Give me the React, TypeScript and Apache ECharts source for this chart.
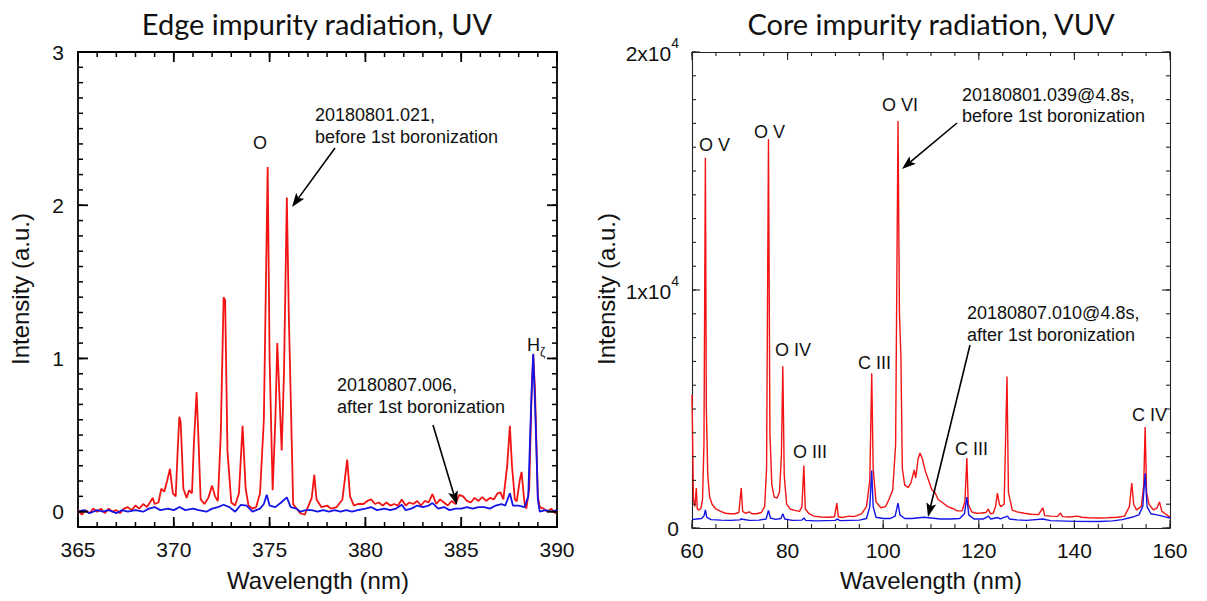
import React, { useEffect, useRef } from 'react';
import * as echarts from 'echarts';

// ---------- Data: Edge impurity radiation, UV (wavelength nm, intensity a.u.) ----------
const edgeBefore: [number, number][] = [
  [365.0, 0.01], [365.2, -0.02], [365.4, 0.01], [365.6, -0.01], [365.8, 0.02], [366.0, 0.0],
  [366.2, 0.02], [366.4, -0.01], [366.6, 0.02], [366.8, 0.0], [367.0, 0.01], [367.2, -0.01],
  [367.4, 0.02], [367.6, 0.03], [367.8, 0.01], [368.0, 0.04], [368.2, 0.02], [368.4, 0.05],
  [368.6, 0.03], [368.8, 0.07], [368.9, 0.09], [369.0, 0.05], [369.2, 0.06], [369.35, 0.15],
  [369.5, 0.13], [369.65, 0.2], [369.8, 0.28], [369.95, 0.12], [370.1, 0.1], [370.22, 0.45],
  [370.29, 0.62], [370.36, 0.58], [370.5, 0.15], [370.67, 0.09], [370.8, 0.14], [370.95, 0.12],
  [371.05, 0.45], [371.19, 0.78], [371.28, 0.5], [371.4, 0.08], [371.6, 0.05], [371.8, 0.09],
  [372.0, 0.17], [372.15, 0.1], [372.3, 0.07], [372.45, 0.5], [372.6, 1.4], [372.68, 1.38],
  [372.8, 0.4], [373.0, 0.06], [373.2, 0.04], [373.4, 0.12], [373.59, 0.56], [373.75, 0.15],
  [373.9, 0.04], [374.1, 0.02], [374.3, 0.03], [374.5, 0.12], [374.7, 0.6], [374.9, 2.25],
  [375.0, 1.0], [375.16, 0.14], [375.3, 0.6], [375.4, 1.1], [375.5, 0.8], [375.63, 0.4],
  [375.75, 0.9], [375.9, 2.05], [376.0, 1.3], [376.23, 0.05], [376.4, 0.02], [376.6, -0.01],
  [376.84, -0.02], [377.0, 0.03], [377.2, 0.09], [377.33, 0.24], [377.45, 0.08], [377.7, 0.03],
  [378.0, 0.04], [378.2, 0.02], [378.5, 0.03], [378.8, 0.08], [379.05, 0.34], [379.2, 0.1],
  [379.4, 0.04], [379.6, 0.05], [379.9, 0.05], [380.1, 0.07], [380.3, 0.08], [380.5, 0.05],
  [380.7, 0.06], [380.9, 0.04], [381.1, 0.06], [381.3, 0.04], [381.5, 0.05], [381.7, 0.04],
  [381.9, 0.08], [382.1, 0.04], [382.3, 0.06], [382.5, 0.05], [382.7, 0.07], [382.9, 0.04],
  [383.1, 0.07], [383.3, 0.06], [383.5, 0.115], [383.7, 0.05], [383.9, 0.08], [384.1, 0.06],
  [384.3, 0.04], [384.5, 0.07], [384.7, 0.05], [384.9, 0.11], [385.1, 0.1], [385.3, 0.07],
  [385.5, 0.06], [385.7, 0.09], [385.9, 0.07], [386.1, 0.095], [386.3, 0.07], [386.5, 0.09],
  [386.7, 0.08], [386.9, 0.12], [387.05, 0.126], [387.2, 0.08], [387.4, 0.3], [387.54, 0.56],
  [387.65, 0.3], [387.8, 0.08], [387.9, 0.067], [388.05, 0.2], [388.15, 0.26], [388.3, 0.06],
  [388.4, 0.02], [388.55, 0.15], [388.68, 0.8], [388.76, 1.02], [388.85, 0.8], [389.0, 0.1],
  [389.1, 0.03], [389.3, 0.02], [389.5, 0.0], [389.7, 0.02], [389.9, -0.01], [390.0, 0.01],
];

const edgeAfter: [number, number][] = [
  [365.0, 0.0], [365.3, 0.01], [365.6, -0.01], [366.0, 0.01], [366.3, 0.0], [366.6, 0.01],
  [367.0, -0.01], [367.3, 0.01], [367.6, 0.0], [368.0, 0.01], [368.4, 0.0], [368.7, 0.02],
  [369.0, 0.03], [369.3, 0.01], [369.7, 0.02], [370.0, 0.01], [370.3, 0.03], [370.6, 0.01],
  [371.0, 0.02], [371.3, 0.01], [371.7, 0.0], [372.0, 0.02], [372.3, 0.03], [372.6, 0.045],
  [372.9, 0.03], [373.2, 0.0], [373.5, 0.045], [373.8, 0.04], [374.1, 0.0], [374.5, 0.02],
  [374.7, 0.05], [374.85, 0.11], [375.0, 0.04], [375.3, 0.03], [375.6, 0.06], [375.9, 0.093],
  [376.1, 0.03], [376.4, 0.02], [376.6, 0.0], [376.9, 0.01], [377.2, 0.01], [377.5, 0.0],
  [377.8, 0.01], [378.1, 0.0], [378.4, 0.01], [378.7, 0.0], [379.0, 0.01], [379.3, 0.0],
  [379.6, 0.01], [380.0, 0.02], [380.3, 0.03], [380.6, 0.01], [381.0, 0.02], [381.3, 0.01],
  [381.6, 0.02], [381.9, 0.045], [382.1, 0.01], [382.4, 0.02], [382.7, 0.04], [383.0, 0.03],
  [383.3, 0.04], [383.5, 0.056], [383.8, 0.02], [384.1, 0.03], [384.4, 0.01], [384.7, 0.02],
  [385.0, 0.02], [385.3, 0.03], [385.6, 0.02], [385.9, 0.03], [386.2, 0.03], [386.5, 0.02],
  [386.8, 0.04], [387.1, 0.05], [387.3, 0.04], [387.54, 0.12], [387.7, 0.04], [388.0, 0.04],
  [388.3, 0.03], [388.5, 0.1], [388.65, 0.7], [388.76, 1.03], [388.88, 0.6], [389.0, 0.08],
  [389.1, 0.0], [389.4, 0.01], [389.7, 0.0], [390.0, 0.01],
];

// ---------- Data: Core impurity radiation, VUV (wavelength nm, intensity) ----------
const coreBefore: [number, number][] = [
  [60.0, 5590], [60.3, 1200], [60.6, 900], [60.9, 1680], [61.1, 800], [61.5, 750], [61.9, 850],
  [62.2, 1200], [62.5, 3500], [62.8, 15560], [63.0, 5000], [63.3, 2200], [63.7, 1300], [64.2, 1000],
  [65.0, 800], [66.0, 700], [67.0, 620], [68.0, 600], [69.0, 600], [69.8, 650], [70.3, 1680],
  [70.6, 700], [71.2, 620], [72.0, 680], [72.5, 600], [73.5, 600], [74.5, 650], [75.2, 900],
  [75.6, 2500], [76.0, 16340], [76.3, 4000], [76.7, 1800], [77.2, 1300], [77.8, 1260], [78.3, 1500],
  [78.7, 3000], [79.0, 6800], [79.3, 2200], [79.8, 1000], [80.5, 800], [81.5, 740], [82.5, 700],
  [83.0, 900], [83.4, 2620], [83.7, 800], [84.5, 600], [85.5, 500], [87.0, 460], [88.5, 450],
  [89.8, 470], [90.3, 1050], [90.6, 470], [91.5, 440], [92.3, 480], [93.0, 500], [93.7, 480],
  [94.5, 520], [95.5, 600], [96.5, 900], [97.2, 2000], [97.6, 6500], [97.9, 2500], [98.5, 1100],
  [99.5, 850], [100.5, 900], [101.2, 1200], [102.0, 1600], [102.6, 3500], [103.1, 17100],
  [103.4, 9000], [103.7, 7270], [104.0, 2500], [104.5, 1800], [105.2, 1700], [105.8, 1900],
  [106.5, 2440], [106.8, 2100], [107.3, 2900], [107.7, 3150], [108.2, 2900], [108.8, 2400],
  [109.5, 2000], [110.2, 1600], [110.8, 1500], [111.5, 1200], [112.5, 1050], [113.5, 900],
  [114.5, 820], [115.5, 720], [116.5, 720], [117.1, 1100], [117.5, 2940], [117.8, 1000],
  [118.5, 680], [119.5, 620], [120.5, 630], [121.5, 650], [122.0, 800], [122.4, 600], [123.0, 620],
  [123.5, 900], [123.9, 1470], [124.3, 1000], [124.6, 900], [125.3, 1000], [125.9, 6360],
  [126.2, 1500], [127.0, 750], [128.0, 680], [129.5, 620], [131.0, 580], [132.5, 560], [133.4, 850],
  [133.8, 520], [135.0, 500], [136.5, 490], [137.1, 630], [137.5, 480], [139.0, 460], [140.7, 500],
  [141.5, 450], [143.0, 430], [145.0, 420], [147.0, 430], [149.0, 450], [150.5, 500], [151.5, 900],
  [152.0, 1890], [152.4, 1000], [153.0, 760], [154.0, 900], [154.5, 1800], [154.8, 4240],
  [155.1, 1500], [155.6, 1000], [156.5, 760], [157.3, 850], [157.8, 1100], [158.3, 700],
  [159.0, 600], [160.0, 460],
];

const coreAfter: [number, number][] = [
  [60.0, 350], [61.0, 380], [62.0, 400], [62.5, 500], [62.8, 760], [63.1, 450], [64.0, 350],
  [66.0, 330], [68.0, 320], [70.0, 340], [70.3, 380], [72.0, 320], [74.0, 330], [75.5, 380],
  [76.0, 740], [76.4, 420], [77.5, 360], [78.6, 400], [79.0, 600], [79.4, 380], [81.0, 320],
  [83.0, 330], [83.4, 420], [83.8, 320], [86.0, 300], [88.0, 310], [90.0, 320], [90.3, 380],
  [91.0, 310], [93.0, 320], [95.0, 330], [96.5, 400], [97.2, 900], [97.6, 2410], [97.9, 900],
  [98.5, 450], [100.0, 400], [101.5, 400], [102.5, 500], [103.1, 1050], [103.5, 550], [104.5, 400],
  [106.0, 400], [107.5, 430], [108.5, 450], [110.0, 420], [112.0, 380], [114.0, 380], [116.0, 400],
  [117.0, 600], [117.5, 1300], [117.9, 550], [119.0, 380], [121.0, 380], [122.0, 500], [122.5, 380],
  [124.0, 440], [124.5, 380], [126.0, 500], [126.4, 380], [128.0, 340], [130.0, 320], [133.4, 380],
  [135.0, 310], [140.0, 280], [145.0, 270], [148.0, 300], [150.0, 350], [152.0, 450], [153.5, 550],
  [154.3, 900], [154.8, 2300], [155.2, 900], [156.0, 600], [157.0, 560], [158.0, 520], [159.0, 470],
  [160.0, 420],
];

// ---------- Axis ranges and tick values ----------
const edgeX = { min: 365, max: 390, interval: 5 };
const edgeY = { min: -0.1, max: 3, interval: 0.1 };
const coreX = { min: 60, max: 160, interval: 20 };
const coreY = { min: 0, max: 20000, interval: 10000 };

function steps(a: number, b: number, step: number): number[] {
  const out: number[] = [];
  const n = Math.round((b - a) / step);
  for (let i = 0; i <= n; i++) out.push(Math.round((a + i * step) * 1e6) / 1e6);
  return out;
}
const edgeXMajor = steps(365, 390, 5);
const edgeXMinor = steps(365, 390, 1);
const edgeYMajor = [0, 1, 2, 3];
const edgeYMinor = steps(-0.1, 3, 0.1);
const coreXMajor = steps(60, 160, 20);
const coreXMinor = steps(60, 160, 5);
const coreYMajor = [0, 10000, 20000];
const coreYMinor = steps(0, 20000, 1000);

const titles = ['Edge impurity radiation, UV', 'Core impurity radiation, VUV'];
const xName = 'Wavelength (nm)';
const yName = 'Intensity (a.u.)';

const ARIAL = 'Liberation Sans, Arial, sans-serif';
const TITLEFONT = 'Lato, sans-serif';
const RED = '#f21414';
const BLUE = '#1414e6';
const INK = '#111';

function txt(text: string, x: number, y: number, size = 18, align = 'left', extra: any = {}) {
  return {
    type: 'text', x, y, z: 50, ...extra,
    style: { text, fontSize: size, fontFamily: ARIAL, fill: INK, textAlign: align, textVerticalAlign: 'middle' },
  };
}

function arrow(x1: number, y1: number, x2: number, y2: number, w = 1.6) {
  const dx = x2 - x1, dy = y2 - y1;
  const L = Math.hypot(dx, dy);
  const ux = dx / L, uy = dy / L;
  const hl = 14, hw = 5;
  const bx = x2 - ux * hl, by = y2 - uy * hl;
  return [
    { type: 'line', z: 50, shape: { x1, y1, x2: bx + ux * 3, y2: by + uy * 3 }, style: { stroke: '#000', lineWidth: w } },
    {
      type: 'polygon', z: 50,
      shape: { points: [[x2, y2], [bx - uy * hw, by + ux * hw], [bx + ux * 3, by + uy * 3], [bx + uy * hw, by - ux * hw]] },
      style: { fill: '#000' },
    },
  ];
}

// inward ticks drawn by a custom series through the axes' scales
function tickSeries(xi: number, yi: number, vals: number[], dim: 'x' | 'y', len: number, color: string, width: number, xMin: number, yMin: number) {
  return {
    type: 'custom', xAxisIndex: xi, yAxisIndex: yi, clip: false, z: 10,
    data: vals.map((v) => (dim === 'x' ? [v, yMin] : [xMin, v])),
    encode: { x: 0, y: 1 },
    renderItem: (params: any, api: any) => {
      const cs = params.coordSys;
      const p = api.coord([api.value(0), api.value(1)]);
      const style = { stroke: color, lineWidth: width };
      if (dim === 'x') {
        const b = cs.y + cs.height;
        return {
          type: 'group',
          children: [
            { type: 'line', shape: { x1: p[0], y1: b, x2: p[0], y2: b - len }, style },
            { type: 'line', shape: { x1: p[0], y1: cs.y, x2: p[0], y2: cs.y + len }, style },
          ],
        };
      }
      const r = cs.x + cs.width;
      return {
        type: 'group',
        children: [
          { type: 'line', shape: { x1: cs.x, y1: p[1], x2: cs.x + len, y2: p[1] }, style },
          { type: 'line', shape: { x1: r, y1: p[1], x2: r - len, y2: p[1] }, style },
        ],
      };
    },
  };
}

export default function App() {
  const ref = useRef<HTMLDivElement>(null);
  useEffect(() => {
    const chart = echarts.init(ref.current!, null, { renderer: 'svg' });
    const tickLabel = { fontFamily: ARIAL, fontSize: 21, color: INK };
    const L0 = 1.8, C0 = '#000';
    const L1 = 1.1, C1 = '#222';

    const ax = (gridIndex: number, pos: string, range: any, lw: number, col: string, label: any) => ({
      type: 'value', gridIndex, position: pos, min: range.min, max: range.max, interval: range.interval,
      axisLine: { show: true, onZero: false, lineStyle: { color: col, width: lw } },
      axisTick: { show: false },
      minorTick: { show: false },
      splitLine: { show: false },
      axisLabel: label || { show: false },
    });

    const option: any = {
      animation: false,
      grid: [
        { left: 78, top: 52, width: 479, height: 475 },
        { left: 692, top: 52, width: 478, height: 476 },
      ],
      xAxis: [
        ax(0, 'bottom', edgeX, L0, C0, { ...tickLabel, margin: 12 }),
        ax(0, 'top', edgeX, L0, C0, null),
        ax(1, 'bottom', coreX, L1, C1, { ...tickLabel, margin: 12 }),
        ax(1, 'top', coreX, L1, C1, null),
      ],
      yAxis: [
        ax(0, 'left', edgeY, L0, C0, {
          ...tickLabel, margin: 14,
          formatter: (v: number) => {
            const r = Math.round(v);
            return Math.abs(v - r) < 1e-6 && edgeYMajor.includes(r) ? String(r) : '';
          },
        }),
        ax(0, 'right', edgeY, L0, C0, null),
        ax(1, 'left', coreY, L1, C1, {
          ...tickLabel, margin: 13,
          formatter: (v: number) => (v === 0 ? '0' : `{b|${v / 10000}x10}{s|4}`),
          rich: {
            b: { fontFamily: ARIAL, fontSize: 21, color: INK, verticalAlign: 'bottom', lineHeight: 24 },
            s: { fontFamily: ARIAL, fontSize: 14, color: INK, verticalAlign: 'bottom', lineHeight: 24, padding: [0, 0, 14, 0] },
          },
        }),
        ax(1, 'right', coreY, L1, C1, null),
      ],
      series: [
        { type: 'line', xAxisIndex: 0, yAxisIndex: 0, data: edgeBefore, showSymbol: false, symbol: 'none', lineStyle: { color: RED, width: 1.8 }, z: 3 },
        { type: 'line', xAxisIndex: 0, yAxisIndex: 0, data: edgeAfter, showSymbol: false, symbol: 'none', lineStyle: { color: BLUE, width: 1.8 }, z: 4 },
        { type: 'line', xAxisIndex: 2, yAxisIndex: 2, data: coreBefore, showSymbol: false, symbol: 'none', lineStyle: { color: RED, width: 1.4 }, z: 3 },
        { type: 'line', xAxisIndex: 2, yAxisIndex: 2, data: coreAfter, showSymbol: false, symbol: 'none', lineStyle: { color: BLUE, width: 1.4 }, z: 4 },
        tickSeries(0, 0, edgeXMinor, 'x', 5, C0, 1.5, edgeX.min, edgeY.min),
        tickSeries(0, 0, edgeXMajor, 'x', 10, C0, 1.8, edgeX.min, edgeY.min),
        tickSeries(0, 0, edgeYMinor, 'y', 5, C0, 1.5, edgeX.min, edgeY.min),
        tickSeries(0, 0, edgeYMajor, 'y', 10, C0, 1.8, edgeX.min, edgeY.min),
        tickSeries(2, 2, coreXMinor, 'x', 4, C1, 1.1, coreX.min, coreY.min),
        tickSeries(2, 2, coreXMajor, 'x', 8, C1, 1.1, coreX.min, coreY.min),
        tickSeries(2, 2, coreYMinor, 'y', 4, C1, 1.1, coreX.min, coreY.min),
        tickSeries(2, 2, coreYMajor, 'y', 8, C1, 1.1, coreX.min, coreY.min),
      ],
      graphic: [
        { type: 'text', x: 317, y: 23, z: 50, style: { text: titles[0], fontSize: 29, fontFamily: TITLEFONT, fill: INK, textAlign: 'center', textVerticalAlign: 'middle' } },
        { type: 'text', x: 931, y: 23, z: 50, style: { text: titles[1], fontSize: 29, fontFamily: TITLEFONT, fill: INK, textAlign: 'center', textVerticalAlign: 'middle' } },
        txt(xName, 318, 580, 24, 'center'),
        txt(xName, 931, 580, 24, 'center'),
        txt(yName, 20, 289, 24, 'center', { rotation: Math.PI / 2 }),
        txt(yName, 606, 289, 24, 'center', { rotation: Math.PI / 2 }),
        txt('O', 260, 143, 18, 'center'),
        txt('20180801.021,', 315, 115),
        txt('before 1st boronization', 315, 137),
        ...arrow(335, 148, 292, 207),
        txt('20180807.006,', 337, 385),
        txt('after 1st boronization', 337, 407),
        ...arrow(433, 425, 457, 505),
        txt('H', 527, 345),
        txt('ζ', 540, 352, 12),
        txt('O V', 699, 145),
        txt('O V', 754, 132),
        txt('O VI', 882, 105),
        txt('20180801.039@4.8s,', 962, 95),
        txt('before 1st boronization', 962, 116),
        ...arrow(957, 123, 902, 169),
        txt('O IV', 775, 350),
        txt('C III', 858, 363),
        txt('O III', 793, 452),
        txt('C III', 955, 449),
        txt('C IV', 1132, 415),
        txt('20180807.010@4.8s,', 967, 313),
        txt('after 1st boronization', 967, 335),
        ...arrow(970, 345, 928, 517),
      ],
    };
    chart.setOption(option);
    return () => chart.dispose();
  }, []);
  return <div ref={ref} style={{ position: 'absolute', left: 0, top: 0, width: 1207, height: 601 }} />;
}
